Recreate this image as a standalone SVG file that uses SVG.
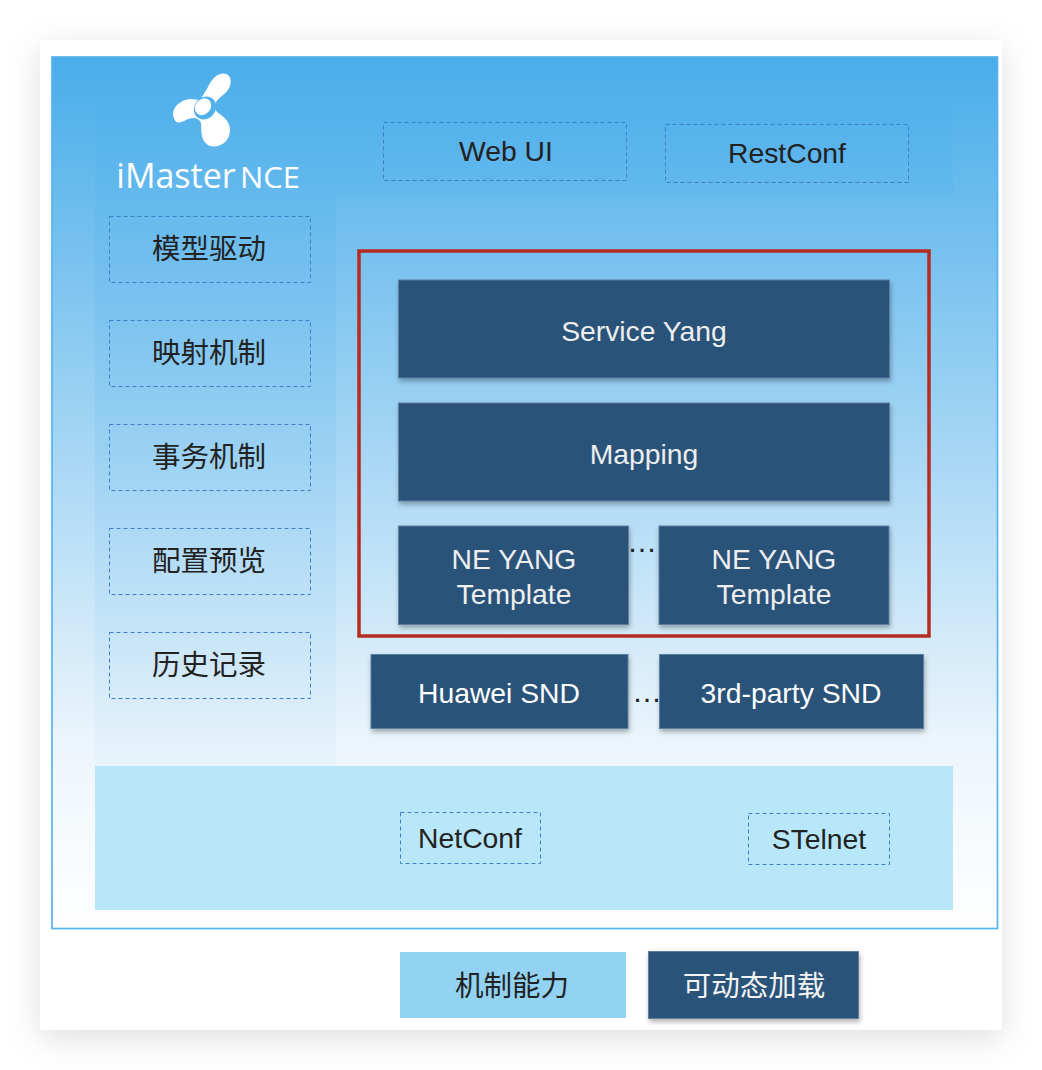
<svg xmlns="http://www.w3.org/2000/svg" width="1042" height="1070" viewBox="0 0 1042 1070">
<style>
text{font-family:"Liberation Sans","Noto Sans CJK SC",sans-serif;text-anchor:middle}
.d{font-size:28.300px;fill:#222}
.z{font-size:28.500px;fill:#222;font-family:"Noto Sans CJK SC",sans-serif;font-weight:400}
.w{font-size:28.300px;fill:#eee}
.wb{font-size:28.300px;fill:#fff}
.zw{font-size:28.500px;fill:#f4f4f4;font-family:"Noto Sans CJK SC",sans-serif;font-weight:400}
.o{font-family:"Open Sans",sans-serif;font-weight:400;fill:#fff}
.dots{font-size:30px;fill:#222}
.b{fill:none;stroke:#3f7fc8;stroke-width:1;stroke-dasharray:4 3}
.n{fill:#29527a;stroke:#5f7f9f;stroke-width:1;filter:url(#s)}
</style>
<defs>
<linearGradient id="g" x1="0" y1="0" x2="0" y2="1"><stop offset="0" stop-color="#49adea"/><stop offset="0.8" stop-color="#eef6fc"/><stop offset="1" stop-color="#ffffff"/></linearGradient>
<linearGradient id="g2" x1="0" y1="0" x2="0" y2="1"><stop offset="0" stop-color="#49adea" stop-opacity="0.22"/><stop offset="1" stop-color="#49adea" stop-opacity="0.04"/></linearGradient>
<filter id="s" x="-10%" y="-10%" width="120%" height="125%"><feDropShadow dx="1" dy="3" stdDeviation="2.5" flood-color="#000" flood-opacity="0.3"/></filter>
<filter id="p" x="-10%" y="-10%" width="120%" height="120%"><feDropShadow dx="0" dy="8" stdDeviation="16" flood-color="#000" flood-opacity="0.13"/></filter>
</defs>
<rect width="1042" height="1070" fill="#fff"/>
<rect x="40" y="40" width="962" height="990" fill="#fff" filter="url(#p)"/>
<rect x="52" y="57" width="945.500" height="871.500" fill="url(#g)" stroke="#55b4ee" stroke-width="1.700"/>
<path d="M95 100H953V198H336V766H95Z" fill="url(#g2)"/>
<rect x="95" y="766" width="858" height="144" fill="#b9e7fa"/>
<g id="logo">
<path fill="#fff" d="M200 100C203 96 204 93 207 89C211 80 216 74 223 73.500C229 73.500 231.500 78 230.500 84C229 92 222 95 217.500 100C214 104 214 108 217 112C222 116 230 120 230 130C230 140 222 147 213 146.500C206 146 202 140 201.500 133C201 127 202 122 199 120C195 117 190 118 186 120C182 122 178 124 175.500 121C172 117 172 110 177 105C181 101 186 99 191 99C194 99 197 100 200 100Z"/>
<ellipse cx="205" cy="108" rx="10.500" ry="12" fill="#52b1ea" transform="rotate(40 205 108)"/>
<ellipse cx="203" cy="106.700" rx="7.500" ry="9" fill="#fff" transform="rotate(40 203 106.700)"/>
<text class="o" x="176" y="188" font-size="34">iMaster</text>
<text class="o" x="270" y="188" font-size="30" textLength="60" lengthAdjust="spacingAndGlyphs">NCE</text>
</g>
<g id="webui"><rect class="b" x="383.500" y="122.500" width="243" height="58"/><text class="d" x="506" y="161">Web UI</text></g>
<g id="restconf"><rect class="b" x="665.500" y="124.500" width="243" height="58"/><text class="d" x="787" y="163">RestConf</text></g>
<g id="l1"><rect class="b" x="109.500" y="216.500" width="201" height="66"/><text class="z" x="209" y="259">模型驱动</text></g>
<g id="l2"><rect class="b" x="109.500" y="320.500" width="201" height="66"/><text class="z" x="209" y="363">映射机制</text></g>
<g id="l3"><rect class="b" x="109.500" y="424.500" width="201" height="66"/><text class="z" x="209" y="467">事务机制</text></g>
<g id="l4"><rect class="b" x="109.500" y="528.500" width="201" height="66"/><text class="z" x="209" y="571">配置预览</text></g>
<g id="l5"><rect class="b" x="109.500" y="632.500" width="201" height="66"/><text class="z" x="209" y="675">历史记录</text></g>
<g id="frame"><rect x="359" y="251" width="570" height="385" fill="none" stroke="#b52d22" stroke-width="3.500"/></g>
<g id="service"><rect class="n" x="398.500" y="280" width="491" height="98"/><text class="w" x="644" y="341">Service Yang</text></g>
<g id="mapping"><rect class="n" x="398.500" y="403" width="491" height="98"/><text class="w" x="644" y="464">Mapping</text></g>
<g id="ne1"><rect class="n" x="398.500" y="526" width="230" height="98.500"/><text class="w" x="514" y="569">NE YANG</text><text class="w" x="514" y="604">Template</text></g>
<g id="ne2"><rect class="n" x="659" y="526" width="230" height="98.500"/><text class="w" x="774" y="569">NE YANG</text><text class="w" x="774" y="604">Template</text></g>
<text class="dots" x="642" y="552">…</text>
<g id="huawei"><rect class="n" x="371" y="654.500" width="257" height="74"/><text class="wb" x="499" y="703">Huawei SND</text></g>
<g id="third"><rect class="n" x="659.500" y="654.500" width="264" height="74"/><text class="wb" x="791" y="703">3rd-party SND</text></g>
<text class="dots" x="647" y="702">…</text>
<g id="netconf"><rect class="b" x="400.500" y="812.500" width="140" height="51"/><text class="d" x="470" y="848">NetConf</text></g>
<g id="stelnet"><rect class="b" x="748.500" y="813.500" width="141" height="51"/><text class="d" x="819" y="849">STelnet</text></g>
<g id="legend1"><rect x="400" y="952" width="226" height="66" fill="#92d3f3"/><text class="z" x="512" y="996">机制能力</text></g>
<g id="legend2"><rect class="n" x="648.500" y="951.500" width="210" height="67"/><text class="zw" x="754" y="996">可动态加载</text></g>
</svg>
